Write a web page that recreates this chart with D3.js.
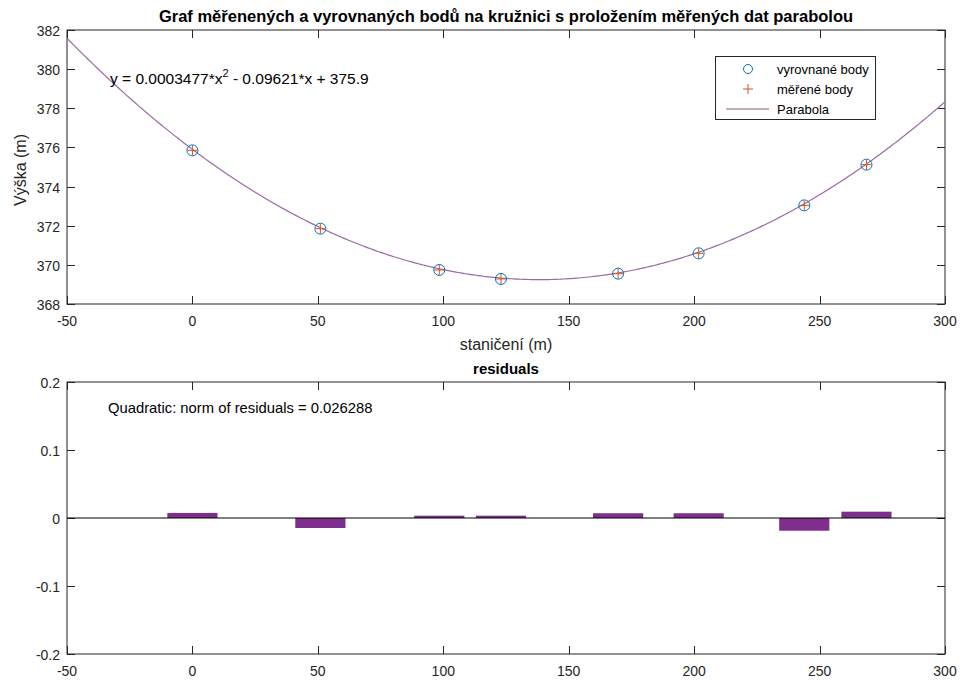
<!DOCTYPE html>
<html><head><meta charset="utf-8">
<script src="https://cdn.jsdelivr.net/npm/d3@7"></script>
<style>body{margin:0;background:#fff;} text{font-family:"Liberation Sans",Arial,sans-serif;}</style>
</head><body>
<svg id="c" width="962" height="680"></svg>
<script>
// Data
const stations = [0, 51, 98.4, 123, 169.7, 201.8, 243.9, 268.7];
const adjustedHeights = [375.85, 371.85, 369.74, 369.28, 369.55, 370.59, 373.04, 375.12];
const measuredHeights = [375.85, 371.85, 369.74, 369.28, 369.55, 370.59, 373.04, 375.12];
const residuals = [0.0074, -0.0147, 0.0034, 0.0034, 0.007, 0.007, -0.0187, 0.0093];
const coeffs = [0.0003477, -0.09621, 375.9];
const xTicks = [-50, 0, 50, 100, 150, 200, 250, 300];
const yTicksTop = [368, 370, 372, 374, 376, 378, 380, 382];
const yTicksBottom = [-0.2, -0.1, 0, 0.1, 0.2];
const legendLabels = ["vyrovnané body", "měřené body", "Parabola"];

const svg = d3.select("#c");
const L = 67, R = 945;
const top1 = 30, bot1 = 304, top2 = 382, bot2 = 654;
const axisCol = "#262626";
const blue = "#0072BD", orange = "#D95319", purple = "#7E2F8E";

const x = d3.scaleLinear().domain([-50, 300]).range([L, R]);
const y1 = d3.scaleLinear().domain([368, 382]).range([bot1, top1]);
const y2 = d3.scaleLinear().domain([-0.2, 0.2]).range([bot2, top2]);
const cxm = (L + R) / 2;

function frame(yScale, yTicks, top, bot) {
  const g = svg.append("g");
  g.append("rect").attr("x", L).attr("y", top).attr("width", R - L).attr("height", bot - top)
    .attr("fill", "none").attr("stroke", axisCol).attr("stroke-width", 1);
  const tl = 8;
  xTicks.forEach(t => {
    const px = Math.round(x(t)) + 0.5;
    g.append("line").attr("x1", px).attr("x2", px).attr("y1", bot).attr("y2", bot - tl).attr("stroke", axisCol);
    g.append("line").attr("x1", px).attr("x2", px).attr("y1", top).attr("y2", top + tl).attr("stroke", axisCol);
    g.append("text").attr("x", x(t)).attr("y", bot + 22).attr("text-anchor", "middle")
      .attr("font-size", 14).attr("fill", axisCol).text(String(t));
  });
  yTicks.forEach(t => {
    const py = Math.round(yScale(t)) + 0.5;
    g.append("line").attr("x1", L).attr("x2", L + tl).attr("y1", py).attr("y2", py).attr("stroke", axisCol);
    g.append("line").attr("x1", R).attr("x2", R - tl).attr("y1", py).attr("y2", py).attr("stroke", axisCol);
    g.append("text").attr("x", L - 7).attr("y", yScale(t) + 6).attr("text-anchor", "end")
      .attr("font-size", 14).attr("fill", axisCol).text(String(t));
  });
}

// Top plot
frame(y1, yTicksTop, top1, bot1);
svg.append("clipPath").attr("id", "cp1").append("rect")
  .attr("x", L).attr("y", top1).attr("width", R - L).attr("height", bot1 - top1);
const curveXs = d3.range(-50, 300.5, 1);
const line = d3.line().x(d => x(d)).y(d => y1(coeffs[0] * d * d + coeffs[1] * d + coeffs[2]));
svg.append("path").datum(curveXs).attr("d", line).attr("fill", "none")
  .attr("stroke", "#9a6aa4").attr("stroke-width", 1.2).attr("clip-path", "url(#cp1)");
stations.forEach((s, i) => {
  svg.append("circle").attr("cx", x(s)).attr("cy", y1(adjustedHeights[i])).attr("r", 5.5)
    .attr("fill", "none").attr("stroke", blue).attr("stroke-width", 1);
  const cx = x(s), cy = y1(measuredHeights[i]);
  svg.append("path").attr("d", `M${cx - 5},${cy}H${cx + 5}M${cx},${cy - 5}V${cy + 5}`)
    .attr("stroke", orange).attr("stroke-width", 1);
});
svg.append("text").attr("x", cxm).attr("y", 22).attr("text-anchor", "middle").attr("font-size", 16.5)
  .attr("font-weight", "bold").attr("fill", "#000")
  .text("Graf měřenených a vyrovnaných bodů na kružnici s proložením měřených dat parabolou");
svg.append("text").attr("x", cxm).attr("y", 350).attr("text-anchor", "middle").attr("font-size", 16)
  .attr("fill", axisCol).text("staničení (m)");
svg.append("text").attr("transform", "translate(26,170) rotate(-90)").attr("text-anchor", "middle")
  .attr("font-size", 16).attr("fill", axisCol).text("Výška (m)");
const eq = svg.append("text").attr("x", 110).attr("y", 84).attr("font-size", 15.5).attr("fill", "#000");
eq.append("tspan").text("y = 0.0003477*x");
eq.append("tspan").attr("dy", -7).attr("font-size", 11).text("2");
eq.append("tspan").attr("dy", 7).text(" - 0.09621*x + 375.9");

// Legend
const lg = svg.append("g");
lg.append("rect").attr("x", 715.5).attr("y", 56.5).attr("width", 160).attr("height", 63)
  .attr("fill", "#fff").attr("stroke", axisCol).attr("stroke-width", 1);
const ly = [69, 89, 109];
lg.append("circle").attr("cx", 748).attr("cy", ly[0]).attr("r", 4.5).attr("fill", "none").attr("stroke", blue);
lg.append("path").attr("d", `M743,${ly[1]}H753M748,${ly[1] - 5}V${ly[1] + 5}`).attr("stroke", orange);
lg.append("line").attr("x1", 726).attr("x2", 769).attr("y1", ly[2]).attr("y2", ly[2]).attr("stroke", "#8a5a70");
legendLabels.forEach((t, i) => {
  lg.append("text").attr("x", 777).attr("y", ly[i] + 5).attr("font-size", 13).attr("fill", "#000").text(t);
});

// Bottom plot
frame(y2, yTicksBottom, top2, bot2);
const bw = x(20) - x(0);
svg.selectAll(".bar").data(stations).enter().append("rect")
  .attr("x", (d) => x(d) - bw / 2)
  .attr("y", (d, i) => Math.min(y2(residuals[i]), y2(0)))
  .attr("width", bw)
  .attr("height", (d, i) => Math.abs(y2(residuals[i]) - y2(0)))
  .attr("fill", purple);
svg.append("line").attr("x1", L).attr("x2", R).attr("y1", y2(0)).attr("y2", y2(0))
  .attr("stroke", "#000").attr("stroke-width", 1);
svg.append("text").attr("x", cxm).attr("y", 374).attr("text-anchor", "middle").attr("font-size", 15)
  .attr("font-weight", "bold").attr("fill", "#000").text("residuals");
svg.append("text").attr("x", 108).attr("y", 413).attr("font-size", 14.8).attr("fill", "#000")
  .text("Quadratic: norm of residuals = 0.026288");
</script>
</body></html>
